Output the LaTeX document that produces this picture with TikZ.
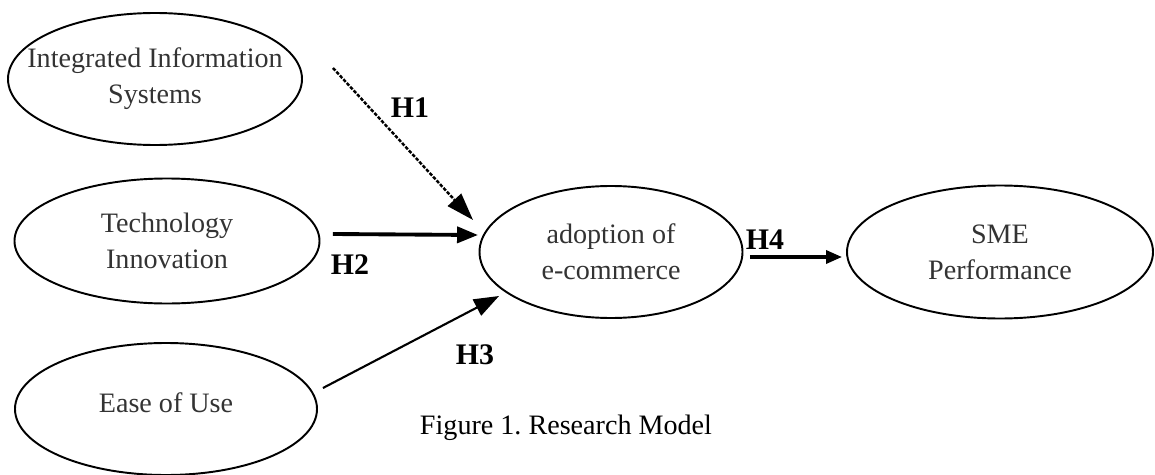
\documentclass[tikz,border=0pt]{standalone}
\usepackage{fontspec}
\newfontfamily\modelfont{Liberation Serif}
\usetikzlibrary{arrows.meta,shapes.geometric}

\tikzset{
  construct/.style={ellipse, draw, line width=1.1pt, inner sep=0pt, align=center,
                    text=black!80, font=\modelfont\fontsize{16}{20.5}\selectfont},
  hyp/.style={font=\modelfont\bfseries\fontsize{17}{20}\selectfont},
}

\begin{document}
\begin{tikzpicture}
\useasboundingbox (0,0) rectangle (23.1,-9.5);

\begin{scope}[every node/.style={construct}]

    \node (iis) at (3.10, -1.58) [minimum width=5.88cm, minimum height=2.64cm, inner xsep=-1cm] {Integrated Information\\Systems};
    \node (tech) at (3.34, -4.82) [minimum width=6.10cm, minimum height=2.50cm] {Technology\\Innovation};
    \node (ease) at (3.32, -8.18) [minimum width=6.04cm, minimum height=2.64cm] {\raisebox{0.24cm}{Ease of Use}};

    \node (adopt) at (12.22, -5.04) [minimum width=5.26cm, minimum height=2.64cm] {adoption of\\e-commerce};
    \node (sme) at (20.00, -5.04) [minimum width=6.12cm, minimum height=2.66cm] {SME\\Performance};
\end{scope}


\begin{scope}[>={Triangle[black]}]
    % H1 is dashed
    \draw [->, line width=1.4pt, dash pattern=on 2pt off 0.9pt, >={Triangle[length=0.55cm, width=0.36cm]}]
        ([shift={(0.60,0.22)}]iis.east) -- ([shift={(-0.11,0.64)}]adopt.west);
    \draw [->, line width=2.2pt, >={Triangle[length=0.42cm, width=0.32cm]}]
        ([shift={(0.25,0.14)}]tech.east) -- ([shift={(-0.01,0.34)}]adopt.west);
    \draw [->, line width=1.2pt, >={Triangle[length=0.50cm, width=0.36cm]}]
        ([shift={(0.10,0.42)}]ease.east) -- ([shift={(0.41,-0.88)}]adopt.west);
    \draw [->, line width=1.9pt, >={Triangle[length=0.32cm, width=0.26cm]}]
        ([shift={(0.13,-0.10)}]adopt.east) -- ([shift={(-0.08,-0.10)}]sme.west);
\end{scope}

\node (h1) at (8.20, -2.16) [hyp] {H1};
\node (h2) at (7.00, -5.30) [hyp] {H2};
\node (h3) at (9.50, -7.10) [hyp] {H3};
\node (h4) at (15.30, -4.80) [hyp] {H4};

\node (caption) at (11.32, -8.56) [font=\modelfont\fontsize{16}{19}\selectfont] {Figure 1.\ Research Model};

\end{tikzpicture}
\end{document}
